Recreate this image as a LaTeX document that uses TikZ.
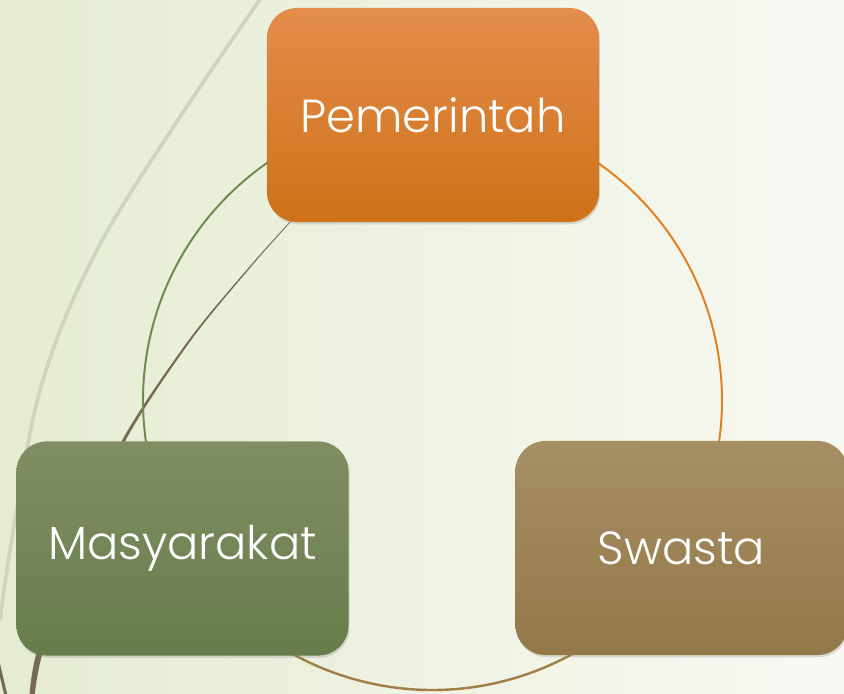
\documentclass[tikz,border=0pt]{standalone}
\usepackage{fontspec}
\setmainfont{Poppins Light}
\usetikzlibrary{positioning,shadows}
\definecolor{pemTop}{RGB}{227,141,76}
\definecolor{pemBot}{RGB}{206,113,24}
\definecolor{masTop}{RGB}{128,142,99}
\definecolor{masBot}{RGB}{104,124,75}
\definecolor{swaTop}{RGB}{166,143,101}
\definecolor{swaBot}{RGB}{147,120,72}
\definecolor{bgLeft}{RGB}{229,236,210}
\definecolor{bgRight}{RGB}{248,249,243}
\definecolor{arcGreen}{RGB}{110,138,80}
\definecolor{arcOrange}{RGB}{226,128,32}
\definecolor{arcBrown}{RGB}{160,127,70}
\definecolor{stem}{RGB}{118,106,82}
\definecolor{reed}{RGB}{208,212,188}
\tikzset{
    actor/.style={rounded corners=0.75cm, minimum width=8.3cm, minimum height=5.35cm,
        text=white, font=\fontsize{33}{40}\selectfont,
        drop shadow={opacity=0.25, shadow xshift=0.8pt, shadow yshift=-1.6pt}},
    link/.style={line width=1.4pt}
}

\begin{document}
\begin{tikzpicture}[x=0.025cm, y=-0.025cm]
    \shade[left color=bgLeft, right color=bgRight] (0,0) rectangle (844,693);
    \useasboundingbox (0,0) rectangle (844,693);

    % decorative curves
    \draw[reed, line width=2.6pt] plot[smooth, tension=0.6] coordinates {(263,-5) (180,117) (97,250) (43,380) (15,520) (0,620)};
    \fill[stem] plot[smooth] coordinates {(290.5,221) (249.2,267) (188.8,340) (122.3,440) (68,560) (36,655) (29,700)}
        -- plot[smooth] coordinates {(34,700) (42,655) (73,560) (125.7,440) (191.2,340) (250.8,267) (291.5,221)} -- cycle;
    \draw[stem, line width=2.2pt] (-2,662) -- (7,700);

    % circle of links
    \coordinate (ctr) at (432.5,400.5);
    \draw[link, arcOrange] (ctr) ++(-80:289.5) arc[start angle=-80, end angle=20, radius=289.5];
    \draw[link, arcGreen] (ctr) ++(260:289.5) arc[start angle=260, end angle=160, radius=289.5];
    \draw[link, arcBrown, line width=1.7pt] (ctr) ++(140:289.5) arc[start angle=140, end angle=40, radius=289.5];

    \node[actor, top color=pemTop, bottom color=pemBot] (pem) at (433,115) {Pemerintah};
    \node[actor, top color=masTop, bottom color=masBot] (mas) at (182.5,548.5) {Masyarakat};
    \node[actor, top color=swaTop, bottom color=swaBot] (swa) at (681.5,548) {Swasta};

\end{tikzpicture}
\end{document}
